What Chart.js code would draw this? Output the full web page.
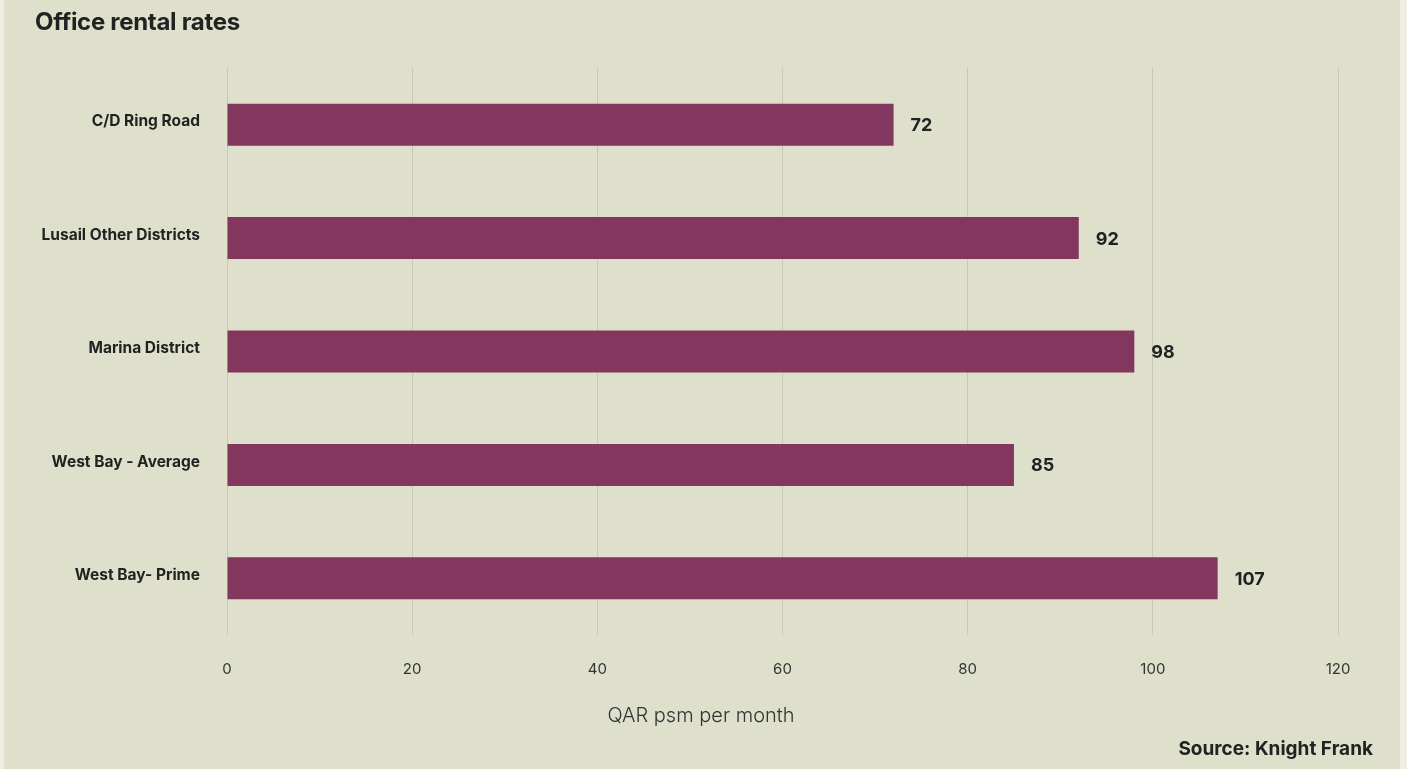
<!DOCTYPE html>
<html>
<head>
<meta charset="utf-8">
<script src="https://cdn.jsdelivr.net/npm/chart.js@4"></script>
<style>
  html, body { margin: 0; padding: 0; background: #eeeee4; }
  #panel { position: absolute; left: 4px; top: 0; width: 1396px; height: 769px; background: #dee0cb; }
  #wrap { position: absolute; left: 0; top: 0; width: 1407px; height: 769px; }
  #title { position: absolute; left: 35px; top: 7px; font: bold 24px Inter, sans-serif; color: #222; letter-spacing: -0.3px; }
  #axisTitle { position: absolute; left: 0; width: 1402px; top: 703px; text-align: center; font: 300 20px Inter, sans-serif; color: #333; }
  #source { position: absolute; right: 34px; top: 737px; font: bold 19px Inter, sans-serif; color: #222; }
</style>
</head>
<body>
<div id="panel"></div>
<div id="wrap"><canvas id="rentChart" width="1407" height="769"></canvas></div>
<div id="title">Office rental rates</div>
<div id="axisTitle">QAR psm per month</div>
<div id="source">Source: Knight Frank</div>
<script>
const districts = ["C/D Ring Road", "Lusail Other Districts", "Marina District", "West Bay - Average", "West Bay- Prime"];
const rents = [72, 92, 98, 85, 107];
const xTicks = [0, 20, 40, 60, 80, 100, 120];

// numbers at the end of each bar
const barLabels = {
  id: "barLabels",
  afterDatasetsDraw(chart) {
    const ctx = chart.ctx;
    const meta = chart.getDatasetMeta(0);
    ctx.save();
    ctx.font = "bold 18px Inter, sans-serif";
    ctx.fillStyle = "#222";
    ctx.textBaseline = "middle";
    meta.data.forEach((bar, i) => {
      ctx.fillText(rents[i], bar.x + 17, bar.y + 1);
    });
    ctx.restore();
  }
};

const ctx = document.getElementById("rentChart").getContext("2d");
new Chart(ctx, {
  type: "bar",
  data: {
    labels: districts,
    datasets: [{
      data: rents,
      backgroundColor: "#84375e",
      barPercentage: 0.37,
      categoryPercentage: 1
    }]
  },
  options: {
    indexAxis: "y",
    responsive: false,
    animation: false,
    layout: { padding: { left: 0, right: 69, top: 68, bottom: 41 } },
    plugins: {
      legend: { display: false },
      tooltip: { enabled: false }
    },
    scales: {
      x: {
        min: 0,
        max: 120,
        afterBuildTicks: s => { s.ticks = xTicks.map(v => ({ value: v })); },
        afterFit: s => { s.height = 93; },
        grid: { color: "#c6c8b4", lineWidth: 1, drawTicks: false },
        border: { display: false },
        ticks: { color: "#333", font: { family: "Inter", size: 15 }, padding: 25 }
      },
      y: {
        afterFit: s => { s.width = 227; },
        grid: { display: false },
        border: { display: false },
        ticks: {
          color: "#222",
          font: { family: "Inter", size: 15.5, weight: "bold" },
          padding: 19,
          labelOffset: -3
        }
      }
    }
  },
  plugins: [barLabels]
});
</script>
</body>
</html>
